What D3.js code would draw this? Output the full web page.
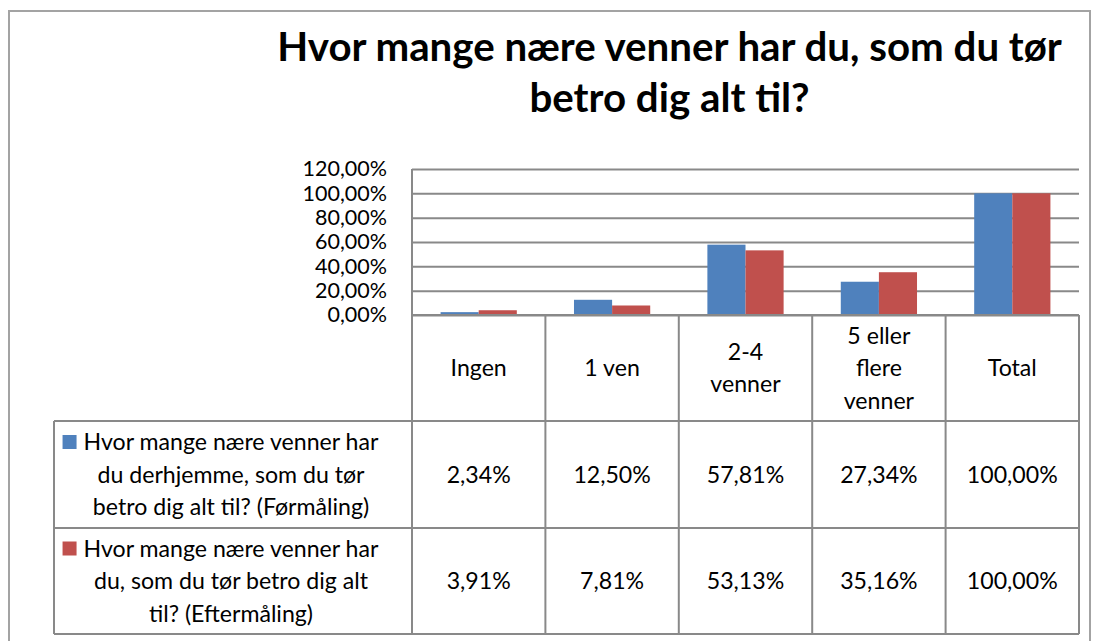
<!DOCTYPE html>
<html>
<head>
<meta charset="utf-8">
<script src="https://cdn.jsdelivr.net/npm/d3@7"></script>
<style>
  body { margin: 0; background: #fff; }
  svg { display: block; }
  text { font-family: Lato, "Open Sans", sans-serif; fill: #000; }
</style>
</head>
<body>
<svg id="chart" width="1096" height="641"></svg>
<script>
// ---- data ----
const categories = ["Ingen", "1 ven", "2-4 venner", "5 eller flere venner", "Total"];
const categoryLines = [["Ingen"], ["1 ven"], ["2-4", "venner"], ["5 eller", "flere", "venner"], ["Total"]];
const seriesKeys = ["Førmåling", "Eftermåling"];
const seriesLabelLines = [
  ["Hvor mange nære venner har", "du derhjemme, som du tør", "betro dig alt til? (Førmåling)"],
  ["Hvor mange nære venner har", "du, som du tør betro dig alt", "til? (Eftermåling)"]
];
const formaaling = [0.0234, 0.1250, 0.5781, 0.2734, 1.0000];
const eftermaaling = [0.0391, 0.0781, 0.5313, 0.3516, 1.0000];
const yTicks = [0, 0.2, 0.4, 0.6, 0.8, 1.0, 1.2];
const seriesColors = ["#4F81BD", "#C0504D"];
const titleLines = ["Hvor mange nære venner har du, som du tør", "betro dig alt til?"];

const seriesValues = [formaaling, eftermaaling];

// ---- layout ----
const svg = d3.select("#chart");
const plot = { left: 412, right: 1079, top: 169, bottom: 315 };
const table = { left: 54, headerBottom: 421, rowBottoms: [528, 634] };
const gridColor = "#898989";
const lineH = 32.5;

const da = d3.formatLocale({ decimal: ",", thousands: ".", grouping: [3], currency: ["", " kr"] });
const pct = da.format(".2%");

// font size that makes a string a given width
function fitSize(str, weight, target) {
  const t = svg.append("text").attr("font-size", 100).attr("font-weight", weight).text(str);
  const w = t.node().getComputedTextLength();
  t.remove();
  return 100 * target / w;
}
const titleSize = fitSize(titleLines[0], "bold", 785);
const bodySize = fitSize("Hvor mange nære venner har", "normal", 295);
const axisSize = bodySize * 0.93;

// outer frame
svg.append("path")
  .attr("d", "M9,700 V11 H1090 V700")
  .attr("fill", "none").attr("stroke", "#a3a3a3").attr("stroke-width", 2);

// title
svg.append("g").selectAll("text").data(titleLines).join("text")
  .attr("x", 669.5)
  .attr("y", (d, i) => 61 + i * 51)
  .attr("text-anchor", "middle")
  .attr("font-weight", "bold")
  .attr("font-size", titleSize)
  .text(d => d);

// scales
const x = d3.scaleBand().domain(categories).range([plot.left, plot.right]).paddingInner(0).paddingOuter(0);
const bw = x.bandwidth();
const xs = d3.scaleBand().domain(seriesKeys).range([bw * 0.75 / 3.5, bw * 2.75 / 3.5]);
const y = d3.scaleLinear().domain([0, 1.2]).range([plot.bottom, plot.top]);

// gridlines + y labels
const yAxis = d3.axisLeft(y).tickValues(yTicks).tickFormat(pct)
  .tickSizeInner(-(plot.right - plot.left)).tickSizeOuter(0).tickPadding(25);
const gy = svg.append("g").attr("transform", `translate(${plot.left},0)`).call(yAxis);
gy.select(".domain").remove();
gy.selectAll(".tick line").attr("stroke", gridColor).attr("stroke-width", 2);
gy.selectAll(".tick text").attr("font-size", axisSize).attr("font-family", "Lato, 'Open Sans', sans-serif").attr("fill", "#000");

// bars
const bars = svg.append("g");
seriesKeys.forEach((key, si) => {
  bars.selectAll(null).data(categories).join("rect")
    .attr("x", c => x(c) + xs(key))
    .attr("width", xs.bandwidth())
    .attr("y", (c, i) => y(seriesValues[si][i]))
    .attr("height", (c, i) => y(0) - y(seriesValues[si][i]))
    .attr("fill", seriesColors[si]);
});

// data table grid
const tg = svg.append("g").attr("stroke", gridColor).attr("stroke-width", 2).attr("fill", "none");
// left plot edge, continuing down through the table
tg.append("line").attr("x1", plot.left).attr("x2", plot.left).attr("y1", plot.top).attr("y2", table.rowBottoms[1]);
categories.forEach(c => {
  tg.append("line").attr("x1", x(c) + bw).attr("x2", x(c) + bw).attr("y1", plot.bottom).attr("y2", table.rowBottoms[1]);
});
tg.append("line").attr("x1", plot.left).attr("x2", plot.right).attr("y1", y(0)).attr("y2", y(0));
[table.headerBottom, ...table.rowBottoms].forEach(yy => {
  tg.append("line").attr("x1", table.left).attr("x2", plot.right).attr("y1", yy).attr("y2", yy);
});
tg.append("line").attr("x1", table.left).attr("x2", table.left).attr("y1", table.headerBottom).attr("y2", table.rowBottoms[1]);

// multi-line centred text helper
function block(g, lines, cx, cy) {
  const n = lines.length;
  g.selectAll(null).data(lines).join("text")
    .attr("x", cx)
    .attr("y", (d, i) => cy + (i - (n - 1) / 2) * lineH)
    .attr("dy", "0.35em")
    .attr("text-anchor", "middle")
    .attr("font-size", bodySize)
    .text(d => d);
}

// header row: category names
const hdr = svg.append("g");
const headerMid = (plot.bottom + table.headerBottom) / 2;
categories.forEach((c, i) => block(hdr, categoryLines[i], x(c) + bw / 2, headerMid));

// series rows: legend keys, names and values
const rowTops = [table.headerBottom, table.rowBottoms[0]];
seriesKeys.forEach((key, si) => {
  const mid = (rowTops[si] + table.rowBottoms[si]) / 2;
  const g = svg.append("g");
  const lines = seriesLabelLines[si];
  const labelCx = (table.left + plot.left) / 2 - 2;
  block(g, lines, labelCx, mid);
  // legend key left of the first line
  const first = g.select("text").node();
  const fx = labelCx - first.getComputedTextLength() / 2;
  const firstY = mid - (lines.length - 1) / 2 * lineH;
  g.append("rect")
    .attr("x", fx - 21).attr("y", firstY - 7)
    .attr("width", 14).attr("height", 14)
    .attr("fill", seriesColors[si]);
  categories.forEach((c, i) => block(g, [pct(seriesValues[si][i])], x(c) + bw / 2, mid));
});
</script>
</body>
</html>
